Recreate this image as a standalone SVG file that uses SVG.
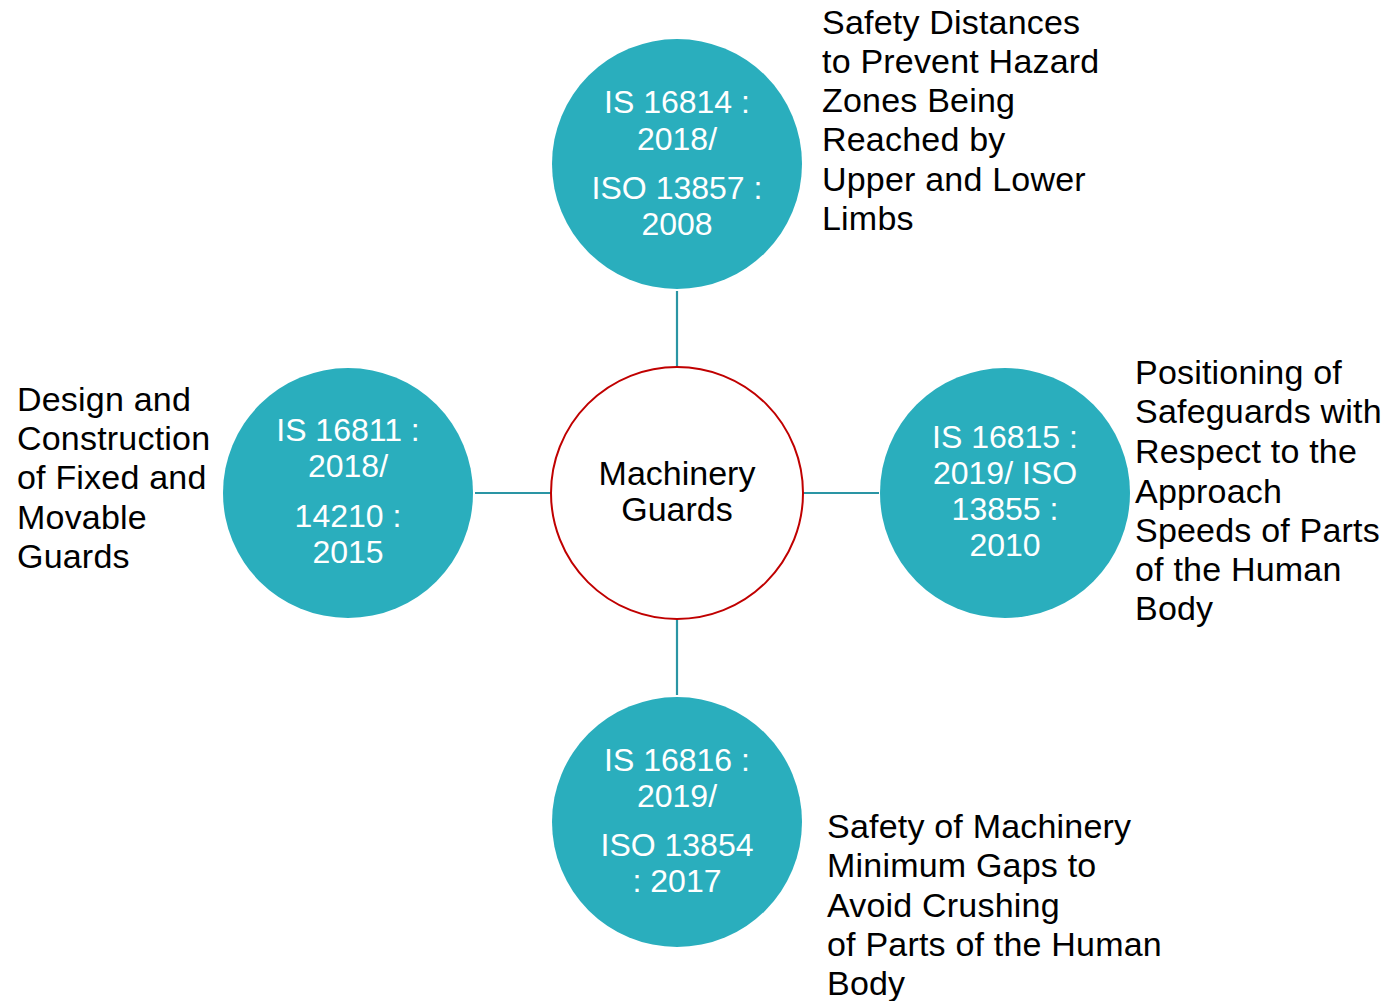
<svg xmlns="http://www.w3.org/2000/svg" width="1386" height="1001" viewBox="0 0 1386 1001">
<style>
.bub{fill:#2aaebd;stroke:none}
.ct{font-family:"Liberation Sans",Arial,sans-serif;font-size:32px;fill:#ffffff;text-anchor:middle}
.lb{font-family:"Liberation Sans",Arial,sans-serif;font-size:34px;letter-spacing:0.2px;fill:#000000}
.mt{font-family:"Liberation Sans",Arial,sans-serif;font-size:34px;fill:#000000;text-anchor:middle}
.con{stroke:#2a95a4;stroke-width:2.2;fill:none}
</style>
<rect width="1386" height="1001" fill="#ffffff"/>
<g id="connectors">
<line class="con" x1="677" y1="291" x2="677" y2="367"/>
<line class="con" x1="677" y1="620" x2="677" y2="695"/>
<line class="con" x1="475" y1="493" x2="551" y2="493"/>
<line class="con" x1="803" y1="493" x2="879" y2="493"/>
</g>
<g id="center">
<circle cx="677" cy="493" r="126" fill="#ffffff" stroke="#c00000" stroke-width="2"/>
<text class="mt" x="677" y="485">Machinery</text>
<text class="mt" x="677" y="521">Guards</text>
</g>
<g id="top">
<circle class="bub" cx="677" cy="164" r="125"/>
<text class="ct" x="677" y="113">IS 16814 :</text>
<text class="ct" x="677" y="150">2018/</text>
<text class="ct" x="677" y="199">ISO 13857 :</text>
<text class="ct" x="677" y="235">2008</text>
</g>
<g id="left">
<circle class="bub" cx="348" cy="493" r="125"/>
<text class="ct" x="348" y="441">IS 16811 :</text>
<text class="ct" x="348" y="477">2018/</text>
<text class="ct" x="348" y="527">14210 :</text>
<text class="ct" x="348" y="563">2015</text>
</g>
<g id="right">
<circle class="bub" cx="1005" cy="493" r="125"/>
<text class="ct" x="1005" y="448">IS 16815 :</text>
<text class="ct" x="1005" y="484">2019/ ISO</text>
<text class="ct" x="1005" y="520">13855 :</text>
<text class="ct" x="1005" y="556">2010</text>
</g>
<g id="bottom">
<circle class="bub" cx="677" cy="822" r="125"/>
<text class="ct" x="677" y="771">IS 16816 :</text>
<text class="ct" x="677" y="807">2019/</text>
<text class="ct" x="677" y="856">ISO 13854</text>
<text class="ct" x="677" y="892">: 2017</text>
</g>
<g id="label-top">
<text class="lb" x="822" y="34">Safety Distances</text>
<text class="lb" x="822" y="73">to Prevent Hazard</text>
<text class="lb" x="822" y="112">Zones Being</text>
<text class="lb" x="822" y="151">Reached by</text>
<text class="lb" x="822" y="191">Upper and Lower</text>
<text class="lb" x="822" y="230">Limbs</text>
</g>
<g id="label-right">
<text class="lb" x="1135" y="384">Positioning of</text>
<text class="lb" x="1135" y="423">Safeguards with</text>
<text class="lb" x="1135" y="463">Respect to the</text>
<text class="lb" x="1135" y="503">Approach</text>
<text class="lb" x="1135" y="542">Speeds of Parts</text>
<text class="lb" x="1135" y="581">of the Human</text>
<text class="lb" x="1135" y="620">Body</text>
</g>
<g id="label-left">
<text class="lb" x="17" y="411">Design and</text>
<text class="lb" x="17" y="450">Construction</text>
<text class="lb" x="17" y="489">of Fixed and</text>
<text class="lb" x="17" y="529">Movable</text>
<text class="lb" x="17" y="568">Guards</text>
</g>
<g id="label-bottom">
<text class="lb" x="827" y="838">Safety of Machinery</text>
<text class="lb" x="827" y="877">Minimum Gaps to</text>
<text class="lb" x="827" y="917">Avoid Crushing</text>
<text class="lb" x="827" y="956">of Parts of the Human</text>
<text class="lb" x="827" y="995">Body</text>
</g>
</svg>
